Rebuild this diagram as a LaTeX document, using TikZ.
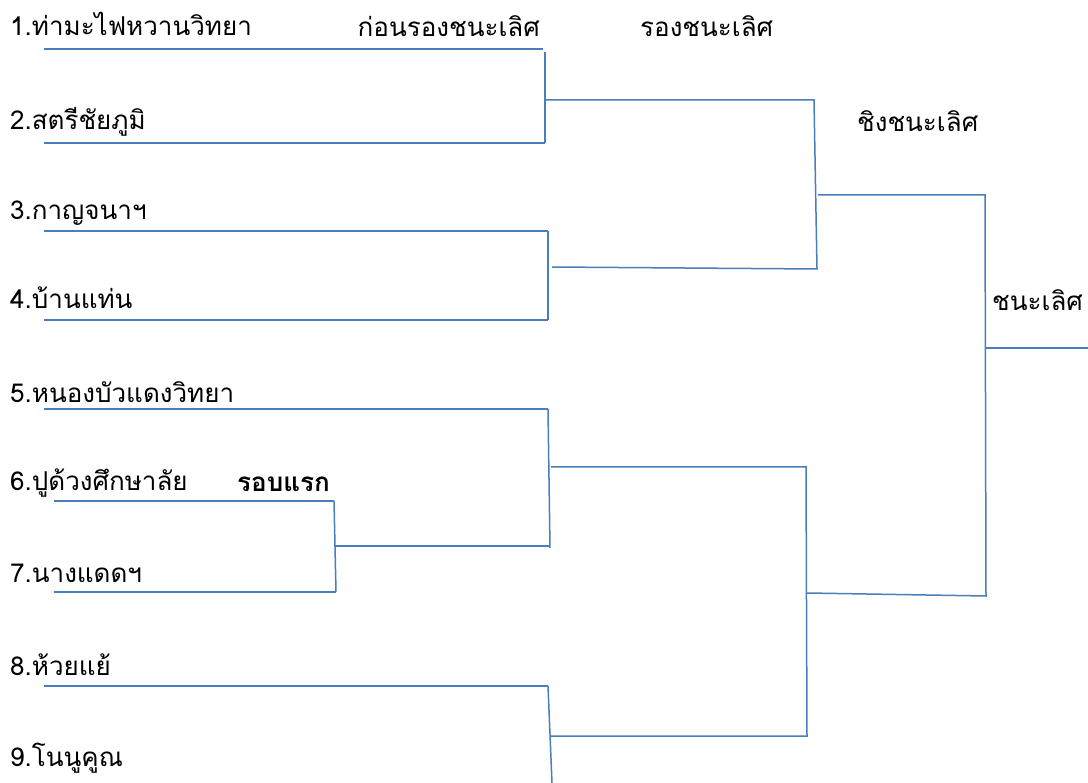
\documentclass[tikz,border=0pt]{standalone}
\usepackage{fontspec}
\newfontfamily\thaifont[Script=Thai]{Loma}
\usetikzlibrary{calc}

\definecolor{lineblue}{HTML}{4A7EBB}
\tikzset{
	bracket/.style={draw=lineblue, line width=1.5pt},
	team/.style={anchor=base west, inner sep=0pt, font=\thaifont\fontsize{26}{31}\selectfont},
}

\begin{document}
\begin{tikzpicture}[x=1pt,y=-1pt]
	\useasboundingbox (0,0) rectangle (1088,783);
	
		% first round lines
		\coordinate (A1) at (44,49) ;   \coordinate (B1) at (543,49) ;
		\coordinate (A2) at (44,143) ;  \coordinate (B2) at (545,143) ;
		\coordinate (A3) at (44,231) ;  \coordinate (B3) at (548,231) ;
		\coordinate (A4) at (44,320) ;  \coordinate (B4) at (548,320) ;
		\coordinate (A5) at (44,409) ;  \coordinate (B5) at (548,409) ;
		\coordinate (A6) at (54,501) ;  \coordinate (B6) at (334,501) ;
		\coordinate (A7) at (54,592) ;  \coordinate (B7) at (336,592) ;
		\coordinate (A8) at (44,686) ;  \coordinate (B8) at (548,686) ;
		\coordinate (B9) at (552,783) ;
		
		% joins
		\coordinate (C1) at (545,100) ; \coordinate (D1) at (814,100) ;
		\coordinate (C2) at (552,267) ; \coordinate (D2) at (817,269) ;
		\coordinate (C3) at (335,546) ; \coordinate (D3) at (549,546) ;
		\coordinate (C4) at (551,467) ; \coordinate (D4) at (806,467) ;
		\coordinate (C5) at (551,736) ; \coordinate (D5) at (807,736) ;
		\coordinate (E1) at (818,195) ; \coordinate (F1) at (985,195) ;
		\coordinate (E2) at (807,593) ; \coordinate (F2) at (986,596) ;
		\coordinate (G) at (986,348) ;  \coordinate (W) at (1088,348) ;
		
		\node[team] (t1) at (10,36) {1.ท่ามะไฟหวานวิทยา};
		\node[team] (t2) at (10,130) {2.สตรีชัยภูมิ};
		\node[team] (t3) at (10,220) {3.กาญจนาฯ};
		\node[team] (t4) at (10,309) {4.บ้านแท่น};
		\node[team] (t5) at (10,403) {5.หนองบัวแดงวิทยา};
		\node[team] (t6) at (10,491) {6.ปูด้วงศึกษาลัย};
		\node[team] (t7) at (10,583) {7.นางแดดฯ};
		\node[team] (t8) at (10,675) {8.ห้วยแย้};
		\node[team] (t9) at (10,766) {9.โนนูคูณ};
		
		\node[team, font=\thaifont\bfseries\fontsize{26}{31}\selectfont] (r1) at (237,492) {รอบแรก};
		\node[team, anchor=base east] (r2) at (540,37) {ก่อนรองชนะเลิศ};
		\node[team] (r3) at (640,37) {รองชนะเลิศ};
		\node[team] (r4) at (857,132) {ชิงชนะเลิศ};
		\node[team] (r5) at (992,311) {ชนะเลิศ};
		
		\draw[bracket] (A1)--(B1) ; \draw[bracket] (A2)--(B2) ;
		\draw[bracket] (A3)--(B3) ; \draw[bracket] (A4)--(B4) ;
		\draw[bracket] (A5)--(B5) ; \draw[bracket] (A6)--(B6) ;
		\draw[bracket] (A7)--(B7) ; \draw[bracket] (A8)--(B8) ;
		
		\draw[bracket] ($(B1)+(2,3)$)--(B2) ;
		\draw[bracket] (B3)--(B4) ;
		\draw[bracket] (B6)--(B7) ;
		\draw[bracket] (B5)--($(B5)+(2,139)$) ;
		\draw[bracket] (B8)--(B9) ;
		
		\draw[bracket] (C1)--(D1)--(D2)--(C2) ;
		\draw[bracket] (C3)--(D3) ;
		\draw[bracket] (C4)--(D4)--(D5)--(C5) ;
		\draw[bracket] (E1)--(F1)--(F2)--(E2) ;
		\draw[bracket] (G)--(W) ;
\end{tikzpicture}
\end{document}
